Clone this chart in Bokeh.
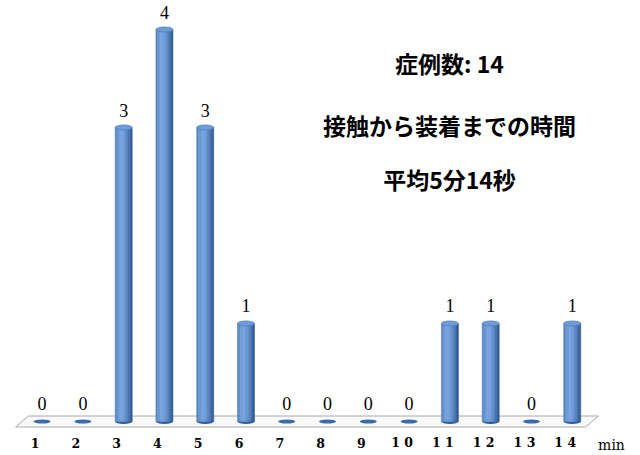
from bokeh.plotting import figure
from bokeh.models import Range1d, ColumnDataSource
from bokeh.core.properties import value
from bokeh.embed import file_html
from bokeh.resources import INLINE

# ---- data ----
categories = list(range(1, 15))
counts = [0, 0, 3, 4, 3, 1, 0, 0, 0, 0, 1, 1, 0, 1]
tick_labels = ["1", "2", "3", "4", "5", "6", "7", "8", "9",
               "1 0", "1 1", "1 2", "1 3", "1 4"]
unit_label = "min"
notes = ["症例数: 14", "接触から装着までの時間", "平均5分14秒"]

# ---- layout ----
W, H = 640, 455
X0, X1 = -0.0201, 15.6741
Y0, Y1 = -0.347, 4.296

p = figure(width=W, height=H, output_backend="svg", toolbar_location=None,
           x_range=Range1d(X0, X1), y_range=Range1d(Y0, Y1),
           x_axis_type=None, y_axis_type=None, min_border=0,
           outline_line_color=None, background_fill_color="white",
           border_fill_color="white")
p.grid.visible = False


def xs(px):
    return X0 + px * (X1 - X0) / W


def ys(py):
    return Y1 - py * (Y1 - Y0) / H


# floor (3D base plate)
p.patch([xs(15), xs(28), xs(598), xs(585)], [ys(426.5), ys(415.5), ys(415.5), ys(426.5)],
        fill_color="#f9f9f9", line_color="#a8a8a8", line_width=1)

nz_x = [c for c, v in zip(categories, counts) if v > 0]
nz_v = [v for v in counts if v > 0]
z_x = [c for c, v in zip(categories, counts) if v == 0]

bar_w = 17 / ((W) / (X1 - X0))  # bar width in data units
N = 12
dark = (0x2a, 0x52, 0x8c)
light = (0x74, 0xa3, 0xdf)


def mix(t):
    # t in [-1, 1] across the cylinder; highlight slightly left of centre
    d = abs(t + 0.25) / 1.25
    k = max(0.0, 1 - d ** 1.6)
    r, g, b = (int(dark[i] + (light[i] - dark[i]) * k) for i in range(3))
    return "#%02x%02x%02x" % (r, g, b)


# bottom caps of cylinders
p.ellipse(x=nz_x, y=[0] * len(nz_x), width=17, height=5, width_units="screen",
          height_units="screen", fill_color="#2f5b97", line_color=None)

for j in range(N):
    t = -1 + (2 * j + 1) / N
    off = t * bar_w / 2
    col = mix(t)
    src = ColumnDataSource(dict(x=[c + off for c in nz_x], top=nz_v))
    p.vbar(x="x", top="top", bottom=0, width=bar_w / N, source=src,
           fill_color=col, line_color=col, line_width=0.6)

# top caps
p.ellipse(x=nz_x, y=nz_v, width=17, height=5, width_units="screen",
          height_units="screen", fill_color="#6f9bd6", line_color="#4f7fbd", line_width=0.8)

# zero-value discs
p.ellipse(x=z_x, y=[0] * len(z_x), width=17, height=4, width_units="screen",
          height_units="screen", fill_color="#3b6aa8", line_color=None)

# value labels
p.text(x=categories, y=counts, text=[str(v) for v in counts], text_align="center",
       text_baseline="bottom", y_offset=-11, text_font=value("Liberation Serif"),
       text_font_size="18px", text_color="black")

# category labels
p.text(x=categories, y=[ys(442)] * len(categories), text=tick_labels,
       text_align="center", text_baseline="middle", x_offset=-7,
       text_font=value("DejaVu Serif"), text_font_size="12.5px",
       text_font_style="bold", text_color="black")

p.text(x=[xs(611)], y=[ys(444)], text=[unit_label], text_align="center",
       text_baseline="middle", text_font=value("DejaVu Serif"),
       text_font_size="14px", text_color="black")

# annotation block
p.text(x=[xs(449)] * 3, y=[ys(62), ys(124), ys(178)], text=notes,
       text_align="center", text_baseline="middle",
       text_font=value("Noto Sans CJK JP"), text_font_style="bold",
       text_font_size={"value": "23px"}, text_color="black")

open("out.html", "w").write(file_html(p, INLINE))
